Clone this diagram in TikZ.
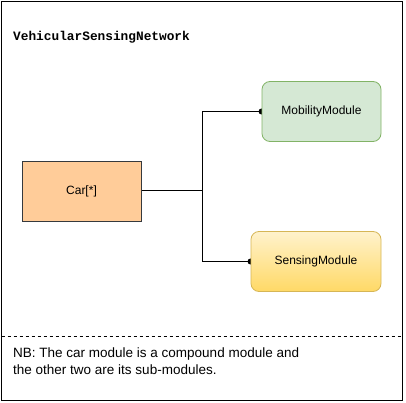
\documentclass[tikz,border=0pt]{standalone}
\usepackage{fontspec}
\setmainfont{Liberation Sans}
\newfontfamily\titlefont{Liberation Mono}
\usetikzlibrary{arrows.meta,backgrounds}
\definecolor{carfill}{HTML}{FFCC99}
\definecolor{carline}{HTML}{36393D}
\definecolor{mobfill}{HTML}{D5E8D4}
\definecolor{mobline}{HTML}{82B366}
\definecolor{senstop}{HTML}{FFF2CC}
\definecolor{sensbot}{HTML}{FFD966}
\definecolor{sensline}{HTML}{D6B656}
\tikzset{
  modbox/.style={minimum width=119pt, minimum height=60pt, inner sep=0pt, font=\fontsize{12}{14}\selectfont},
  conn/.style={draw=black, line width=1pt, -{Circle[length=6pt,width=6pt]}, shorten >=-3pt},
}
\begin{document}
\begin{tikzpicture}[x=1pt,y=-1pt]
\useasboundingbox (0,0) rectangle (406,403);
\draw[line width=1pt] (1.5,1.5) rectangle (402,400);
\draw[line width=0.8pt, dash pattern=on 3pt off 3pt] (1.5,336) -- (402,336);
\node[anchor=base west, inner sep=0pt, font=\titlefont\bfseries\fontsize{12.8}{15}\selectfont] (title) at (13,41) {VehicularSensingNetwork};
\node[modbox, draw=carline, fill=carfill, line width=0.8pt] (car) at (81.5,191) {Car[*]};
\node[modbox, draw=mobline, fill=mobfill, rounded corners=8pt, line width=0.8pt] (mob) at (321.5,111.5) {MobilityModule};
\node[modbox, minimum width=130pt, draw=sensline, top color=senstop, bottom color=sensbot, rounded corners=8pt, line width=0.8pt] (sens) at (316,261.5) {SensingModule};
\coordinate (j) at (202,191);
\begin{scope}[on background layer]
\draw[conn] (car.east) -- (j) |- (mob.west);
\draw[conn] (j) |- (sens.west);
\end{scope}
\node[anchor=north west, inner sep=0pt, align=left, font=\fontsize{13.5}{17}\selectfont] (nb) at (13,347.5) {NB: The car module is a compound module and\\the other two are its sub-modules.};
\end{tikzpicture}
\end{document}
